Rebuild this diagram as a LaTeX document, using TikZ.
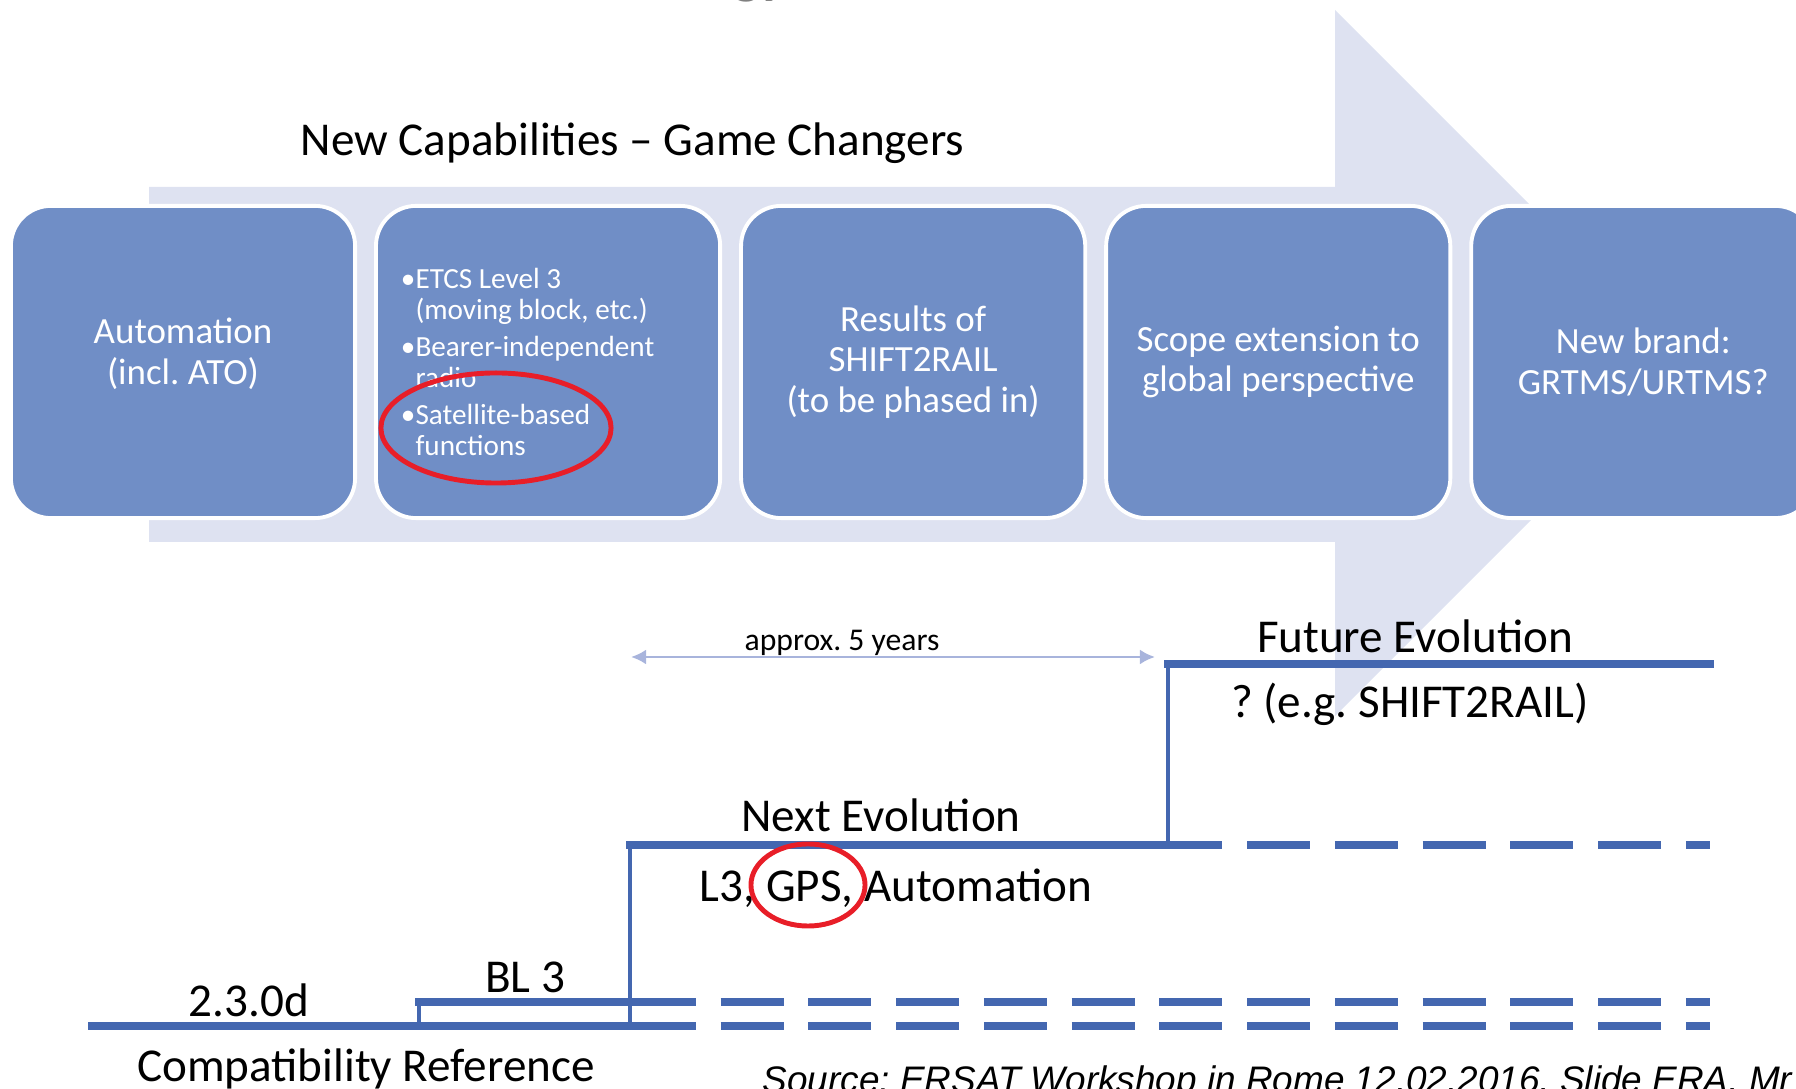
\documentclass[tikz,border=0pt]{standalone}
\usepackage{fontspec}
\setmainfont{Carlito}
\newfontfamily\srcfont{Liberation Sans}
\usetikzlibrary{positioning,arrows.meta}
\definecolor{boxblue}{RGB}{112,142,198}
\definecolor{arrowbg}{RGB}{222,226,241}
\definecolor{stepblue}{RGB}{68,103,176}
\definecolor{spanblue}{RGB}{168,180,220}
\definecolor{ringred}{RGB}{232,30,40}
\frenchspacing

\begin{document}
\begin{tikzpicture}[x=0.01cm,y=-0.01cm,
  capbox/.style={draw=white,line width=1.1pt,fill=boxblue,rounded corners=0.4cm,minimum width=3.44cm,minimum height=3.12cm,inner sep=0pt,text=white,align=center,font=\fontsize{10.5}{11.6}\selectfont},
  lbl/.style={anchor=base,inner sep=0pt,font=\fontsize{13.4}{15}\selectfont},
  level/.style={stepblue,line width=2pt,line cap=rect},
  ahead/.style={level,line cap=butt,dash pattern=on 17.9pt off 7.05pt},
  riser/.style={stepblue,line width=1.4pt,shorten <=-1pt,shorten >=-1pt},
  redring/.style={ringred,line width=1.4pt}]
  \useasboundingbox (0,0) rectangle (1796,1089);
  \begin{scope}
  \clip (0,0) rectangle (1796,1089);
  % background arrow
  \fill[arrowbg] (149,187) -- (1335,187) -- (1335,10) -- (1688,363) -- (1335,716) -- (1335,542) -- (149,542) -- cycle;
  \node[anchor=base west,inner sep=0pt,text=gray,font=\fontsize{16.2}{18}\selectfont\bfseries] (ttl) at (733,-7) {gy};
  \node[lbl,anchor=base west] (cap) at (300,156) {New Capabilities -- Game Changers};
  % capability boxes
  \node[capbox] (b1) at (183,362) {Automation\\(incl. ATO)\rule[-6pt]{0pt}{1pt}};
  \node[capbox,right=0.17cm of b1,text width=2.94cm,align=left,font=\fontsize{8.3}{8.8}\selectfont] (b2) {%
    \spaceskip=0pt\xspaceskip=0pt
    \textbullet ETCS Level 3\\
    \hphantom{\textbullet}(moving block, etc.)\\[1.7pt]
    \textbullet Bearer-independent\\
    \hphantom{\textbullet}radio\\[1.7pt]
    \textbullet Satellite-based\\
    \hphantom{\textbullet}functions};
  \node[capbox,right=0.17cm of b2] (b3) {Results of\\SHIFT2RAIL\\(to be phased in)};
  \node[capbox,right=0.17cm of b3] (b4) {Scope extension to\\global perspective};
  \node[capbox,right=0.17cm of b4] (b5) {New brand:\\GRTMS/URTMS?};
  \draw[redring] (496,428) ellipse [x radius=1.15cm,y radius=0.55cm];
  % baselines
  \coordinate (base0) at (92,1026);
  \coordinate (base1) at (630,1026);
  \coordinate (bl0) at (419,1002);
  \coordinate (bl1) at (630,1002);
  \coordinate (blfoot) at (419,1026);
  \coordinate (nx0) at (630,845);
  \coordinate (nx1) at (1168,845);
  \coordinate (fu0) at (1168,664);
  \coordinate (fu1) at (1710,664);
  \foreach \y in {1026,1002,845} \draw[ahead] (633,\y) -- (1710,\y);
  \draw[level] (base0) -- (base1);
  \draw[level] (bl0) -- (bl1);
  \draw[level] (nx0) -- (nx1);
  \draw[level] (fu0) -- (fu1);
  \draw[riser] (blfoot) -- (bl0);
  \draw[riser] (base1) -- (nx0);
  \draw[riser] (nx1) -- (fu0);
  \coordinate (sp0) at (631,657);
  \coordinate (sp1) at (1155,657);
  \draw[spanblue,line width=0.8pt,{Latex[length=4.3pt,width=4.3pt]}-{Latex[length=4.3pt,width=4.3pt]}] (sp0) -- (sp1);
  \node[anchor=base,inner sep=0pt,font=\fontsize{9}{10}\selectfont] (span) at (842,651) {approx. 5 years};
  \node[lbl] (fut) at (1415,653) {Future Evolution};
  \node[lbl] (futx) at (1410,718) {? (e.g. SHIFT2RAIL)};
  \node[lbl] (nxt) at (881,832) {Next Evolution};
  \node[lbl] (nxtx) at (896,902) {L3, GPS, Automation};
  \node[lbl] (bl) at (525,993) {BL 3};
  \node[lbl] (old) at (249,1017) {2.3.0d};
  \node[lbl] (ref) at (366,1082) {Compatibility Reference};
  \draw[redring] (808,885) ellipse [x radius=0.57cm,y radius=0.41cm];
  \node[anchor=base west,inner sep=0pt,font=\srcfont\itshape\fontsize{10.5}{12}\selectfont] (src) at (762,1093) {Source: ERSAT Workshop in Rome 12.02.2016, Slide ERA, Mr};
  \end{scope}
\end{tikzpicture}
\end{document}
